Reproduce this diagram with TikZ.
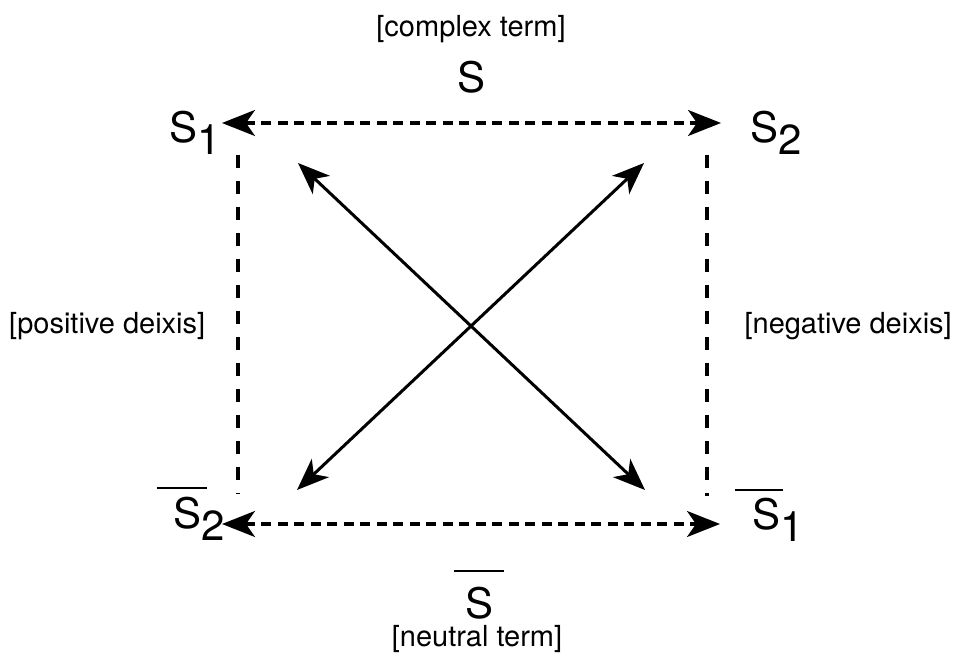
\documentclass[tikz,border=0pt]{standalone}
\usepackage{fontspec}
\setmainfont{TeX Gyre Heros}
\usetikzlibrary{arrows.meta}
\tikzset{
  lbl/.style={inner sep=0pt, font=\fontsize{29}{31}\selectfont},
  sym/.style={inner sep=0pt, font=\fontsize{42}{46}\selectfont},
  hdash/.style={line width=3.2pt, dash pattern=on 10pt off 6.5pt, {Stealth[length=33pt,width=26pt,inset=9pt]}-{Stealth[length=33pt,width=26pt,inset=9pt]}},
  vdash/.style={line width=3.6pt, dash pattern=on 13pt off 13pt},
  diag/.style={line width=3pt, {Stealth[length=32pt,width=25pt,inset=9pt]}-{Stealth[length=32pt,width=25pt,inset=9pt]}},
  bar/.style={line width=2pt}
}
\newcommand{\lowsub}[1]{\raisebox{-12pt}{#1}}
\begin{document}
\begin{tikzpicture}[x=1pt,y=-1pt]
\useasboundingbox (0,0) rectangle (956,660);
% labels
\node[lbl, anchor=base] (ct) at (471,37) {[complex term]};
\node[lbl, anchor=base] (nt) at (477,646) {[neutral term]};
\node[lbl, anchor=west] (pd) at (9,326) {[positive deixis]};
\node[lbl, anchor=east] (nd) at (952,326) {[negative deixis]};
\node[sym, anchor=base] (St) at (472,93) {S};
\node[sym, anchor=base] (Sb) at (480,618) {S};
\node[sym, anchor=base west] (s1) at (169,143) {S\lowsub{1}};
\node[sym, anchor=base west] (s2) at (750,143) {S\lowsub{2}};
\node[sym, anchor=base west] (ns2) at (173,528) {S\lowsub{2}};
\node[sym, anchor=base west] (ns1) at (752,529) {S\lowsub{1}};
% overlines
\draw[bar] (157,488) -- (207,488);
\draw[bar] (735,490) -- (783,490);
\draw[bar] (454,571) -- (504,571);
% connector end points
\coordinate (tl) at (222,123);
\coordinate (tr) at (721,123);
\coordinate (bl) at (222,524);
\coordinate (br) at (720,524);
\coordinate (lt) at (238,155);
\coordinate (lb) at (238,494);
\coordinate (rt) at (707,155);
\coordinate (rb) at (707,496);
\coordinate (d1a) at (298,163);
\coordinate (d1b) at (645,490);
\coordinate (d2a) at (644,163);
\coordinate (d2b) at (297,490);
% connectors
\draw[hdash] (tl) -- (tr);
\draw[hdash] (bl) -- (br);
\draw[vdash] (lt) -- (lb);
\draw[vdash] (rt) -- (rb);
\draw[diag] (d1a) -- (d1b);
\draw[diag] (d2a) -- (d2b);
\end{tikzpicture}
\end{document}
